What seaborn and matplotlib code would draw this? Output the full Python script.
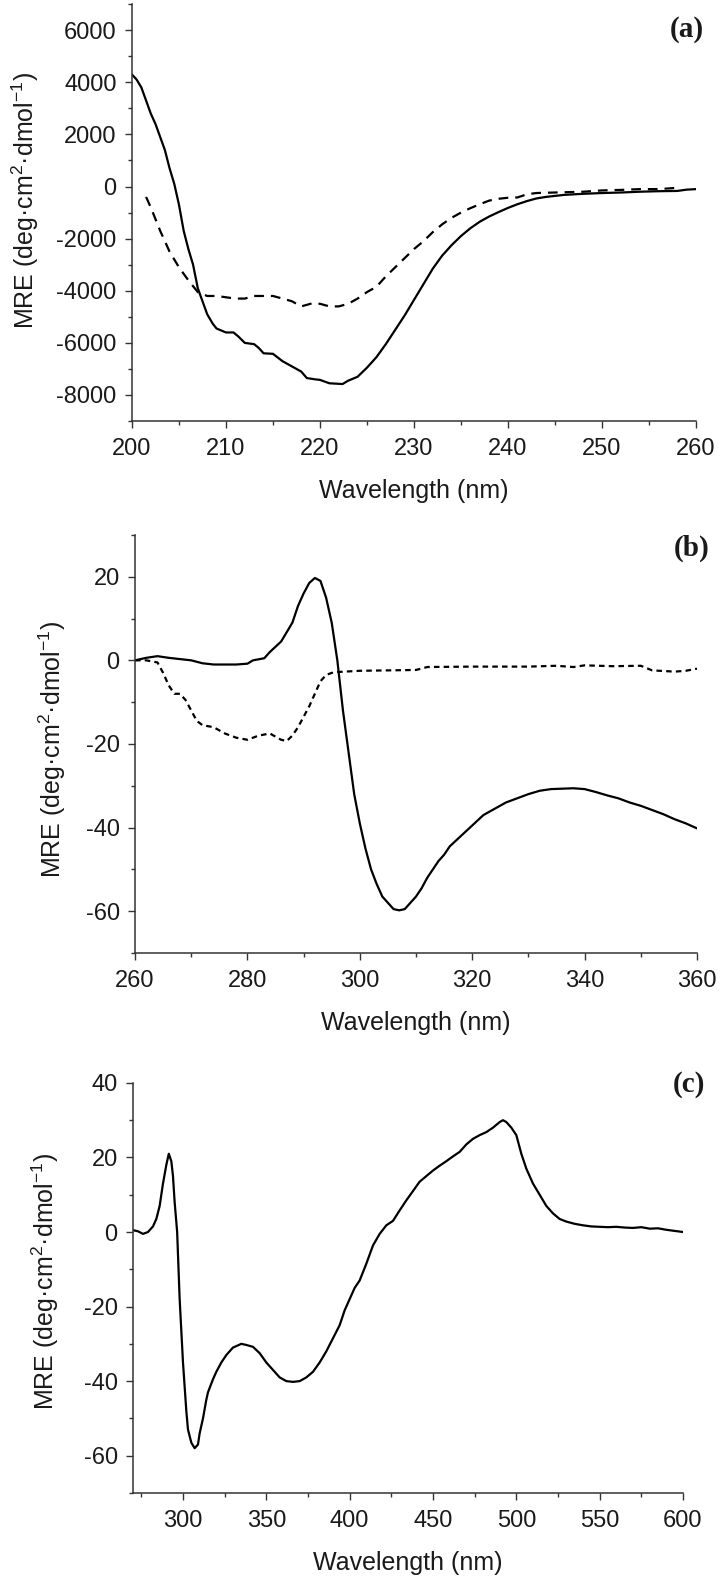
import matplotlib
matplotlib.use("Agg")
import matplotlib.pyplot as plt
from matplotlib.ticker import MultipleLocator
import seaborn as sns

# ── Panel (a): far-UV CD, solid and dashed spectra ────────────────────────────
A_SOLID_NM = [200, 200.5, 201, 201.5, 202, 202.5, 203, 203.5, 204, 204.5, 205,
              205.5, 206, 206.5, 207, 207.5, 208, 208.6, 209, 210, 210.8, 211.3,
              212, 213, 213.5, 214, 215, 216, 217, 218, 218.6, 219.5, 220, 221,
              222.4, 223, 224, 225, 226, 227, 228, 229, 230, 231, 232, 233, 234,
              235, 236, 237, 238, 239, 240, 241, 242, 243, 244, 246, 248, 250,
              252, 254, 256, 258, 259, 260]
A_SOLID_MRE = [4300, 4100, 3800, 3300, 2800, 2400, 1900, 1400, 700, 100, -700,
               -1700, -2400, -3000, -3900, -4400, -4900, -5270, -5450, -5600,
               -5600, -5750, -6000, -6050, -6200, -6400, -6420, -6700, -6900,
               -7100, -7350, -7400, -7420, -7550, -7580, -7450, -7300, -6950,
               -6550, -6050, -5500, -4950, -4350, -3750, -3150, -2650, -2250,
               -1900, -1600, -1350, -1150, -980, -820, -680, -560, -460, -400,
               -320, -280, -250, -230, -200, -180, -170, -120, -100]

A_DASH_NM = [201.5, 202, 203, 204, 205, 206, 207, 208, 209, 210, 211, 212, 213,
             214, 215, 216, 217, 218, 219, 220, 221, 222, 223, 224, 225, 226,
             227, 228, 229, 230, 231, 232, 233, 234, 235, 236, 237, 238, 239,
             240, 241, 242, 243, 244, 246, 248, 250, 252, 254, 256, 258]
A_DASH_MRE = [-400, -800, -1700, -2500, -3100, -3600, -4050, -4200, -4200,
              -4250, -4300, -4300, -4200, -4200, -4200, -4300, -4400, -4600,
              -4500, -4500, -4600, -4600, -4500, -4300, -4050, -3850, -3450,
              -3100, -2750, -2400, -2100, -1750, -1450, -1200, -1000, -830, -680,
              -540, -470, -430, -420, -300, -250, -240, -220, -200, -150, -130,
              -100, -100, -50]

# ── Panel (b): near-UV CD ─────────────────────────────────────────────────────
B_SOLID_NM = [260, 262, 264, 266, 268, 270, 272, 274, 276, 278, 280, 281, 283,
              284, 286, 288, 289, 290, 291, 292, 293, 294, 295, 296, 297, 298,
              299, 300, 301, 302, 303, 304, 305, 306, 307, 308, 309, 310, 311,
              312, 313, 314, 315, 316, 318, 320, 322, 324, 326, 328, 330, 332,
              334, 336, 338, 340, 342, 344, 346, 348, 350, 352, 354, 356, 358,
              360]
B_SOLID_MRE = [0, 0.6, 1, 0.6, 0.3, 0, -0.7, -1, -1, -1, -0.8, 0, 0.5, 2, 4.5,
               9, 13, 16, 18.5, 19.7, 19, 15, 9, 0, -12, -22, -32, -39, -45, -50,
               -53.5, -56.5, -58, -59.5, -59.8, -59.5, -58, -56.5, -54.5, -52,
               -50, -48, -46.5, -44.5, -42, -39.5, -37, -35.5, -34, -33, -32,
               -31.2, -30.8, -30.7, -30.6, -30.8, -31.5, -32.3, -33, -34, -34.8,
               -35.8, -36.8, -38, -39, -40.2]

B_DASH_NM = [260, 262, 264, 265, 266, 267, 268, 269, 270, 271, 272, 274, 276,
             278, 280, 282, 284, 286, 287, 288, 289, 290, 291, 292, 293, 294,
             295, 296, 300, 305, 310, 312, 320, 330, 335, 338, 340, 345, 350,
             352, 356, 358, 360]
B_DASH_MRE = [0, 0, -0.5, -3, -6, -8, -8, -9.5, -12, -14.5, -15.5, -16, -17.5,
              -18.5, -19, -18, -17.5, -19, -19.3, -18, -16, -13.5, -11, -8, -5,
              -3.5, -3, -2.8, -2.5, -2.4, -2.3, -1.6, -1.5, -1.5, -1.3, -1.6,
              -1.2, -1.4, -1.3, -2.4, -2.7, -2.5, -2]

# ── Panel (c): visible-range CD ───────────────────────────────────────────────
C_NM = [270, 273, 276, 279, 282, 284, 286, 288, 290, 291.5, 293, 294, 295,
        296.5, 298, 300, 302, 303, 305, 307, 309, 310, 312, 314, 315, 318, 320,
        323, 326, 330, 335, 338, 342, 346, 350, 354, 358, 362, 366, 370, 374,
        378, 382, 386, 390, 394, 397, 400, 403, 406, 410, 414, 418, 422, 426,
        430, 434, 438, 442, 446, 450, 454, 458, 462, 466, 470, 474, 478, 482,
        486, 490, 492, 494, 497, 500, 503, 506, 510, 514, 518, 522, 526, 530,
        535, 540, 545, 550, 555, 560, 565, 570, 575, 580, 585, 590, 595, 600]
C_MRE = [0.5, 0.2, -0.5, 0, 1.5, 3.5, 7, 13, 18, 21, 19, 15, 8, 0, -18, -35,
         -48, -53, -56.5, -58, -57, -54, -50, -45, -43, -39.5, -37.5, -35, -33,
         -31, -30, -30.3, -30.8, -32.5, -35, -37, -39, -40, -40.2, -40, -39,
         -37.5, -35, -32, -28.5, -25, -21, -18, -15, -13, -8.5, -3.6, -0.5, 1.8,
         3, 5.8, 8.5, 11, 13.5, 15, 16.5, 17.8, 19, 20.3, 21.5, 23.5, 25, 26,
         26.8, 28, 29.5, 30, 29.5, 28, 26, 21, 17, 13, 10, 7, 5, 3.5, 2.8, 2.2,
         1.8, 1.5, 1.4, 1.3, 1.4, 1.2, 1.1, 1.3, 0.9, 1.0, 0.6, 0.3, 0]

YLABEL = "MRE (deg·cm$^{2}$·dmol$^{-1}$)"
XLABEL = "Wavelength (nm)"

sns.set_style("ticks")
plt.rcParams["font.family"] = ["Liberation Sans", "DejaVu Sans"]
plt.rcParams["mathtext.fontset"] = "custom"
plt.rcParams["mathtext.rm"] = "Liberation Sans"
plt.rcParams["mathtext.it"] = "Liberation Sans:italic"
plt.rcParams["axes.unicode_minus"] = False
plt.rcParams["lines.scale_dashes"] = False

INK = "#1a1a1a"


def style_panel(ax, xlim, ylim, xmaj, xmin, ymaj, ymin, ylab_x, ylab_y):
    ax.set_xlim(*xlim)
    ax.set_ylim(*ylim)
    ax.xaxis.set_major_locator(MultipleLocator(xmaj))
    ax.xaxis.set_minor_locator(MultipleLocator(xmin))
    ax.yaxis.set_major_locator(MultipleLocator(ymaj))
    ax.yaxis.set_minor_locator(MultipleLocator(ymin))
    ax.tick_params(which="major", direction="out", length=5, width=1.0,
                   color="#333", labelsize=17, labelcolor=INK, pad=6)
    ax.tick_params(axis="x", which="major", pad=7)
    ax.tick_params(which="minor", direction="out", length=3, width=1.0,
                   color="#333")
    sns.despine(ax=ax)
    for s in ("left", "bottom"):
        ax.spines[s].set_linewidth(1.1)
        ax.spines[s].set_color("#333")
    ax.set_xlabel(XLABEL, fontsize=18, color=INK, labelpad=14)
    ax.set_ylabel(YLABEL, fontsize=18, color=INK, va="center")
    ax.yaxis.set_label_coords(ylab_x, ylab_y)


fig = plt.figure(figsize=(7.2, 15.77), dpi=100)

# (a)
ax_a = fig.add_axes([0.1833, 0.7330, 0.7834, 0.2644])
sns.lineplot(x=A_SOLID_NM, y=A_SOLID_MRE, ax=ax_a, color="black", lw=1.6)
sns.lineplot(x=A_DASH_NM, y=A_DASH_MRE, ax=ax_a, color="black", lw=1.6,
             linestyle=(0, (7, 5)))
style_panel(ax_a, (200, 260), (-9000, 7000), 10, 5, 2000, 1000, -0.19, 0.53)

# (b)
ax_b = fig.add_axes([0.1875, 0.3957, 0.7806, 0.2651])
sns.lineplot(x=B_SOLID_NM, y=B_SOLID_MRE, ax=ax_b, color="black", lw=1.6)
sns.lineplot(x=B_DASH_NM, y=B_DASH_MRE, ax=ax_b, color="black", lw=1.6,
             linestyle=(0, (4, 3)))
style_panel(ax_b, (260, 360), (-70, 30), 20, 10, 20, 10, -0.148, 0.486)

# (c)
ax_c = fig.add_axes([0.1847, 0.0533, 0.7639, 0.2600])
sns.lineplot(x=C_NM, y=C_MRE, ax=ax_c, color="black", lw=1.6)
style_panel(ax_c, (270, 600), (-70, 40), 50, 25, 20, 10, -0.16, 0.515)

for lab, x, y in (("(a)", 0.954, 0.981), ("(b)", 0.960, 0.6525),
                  ("(c)", 0.957, 0.3126)):
    fig.text(x, y, lab, fontsize=21, fontweight="bold", ha="center",
             va="center", family=["Liberation Serif", "DejaVu Serif"],
             color=INK)

fig.savefig("out.png", dpi=100)
